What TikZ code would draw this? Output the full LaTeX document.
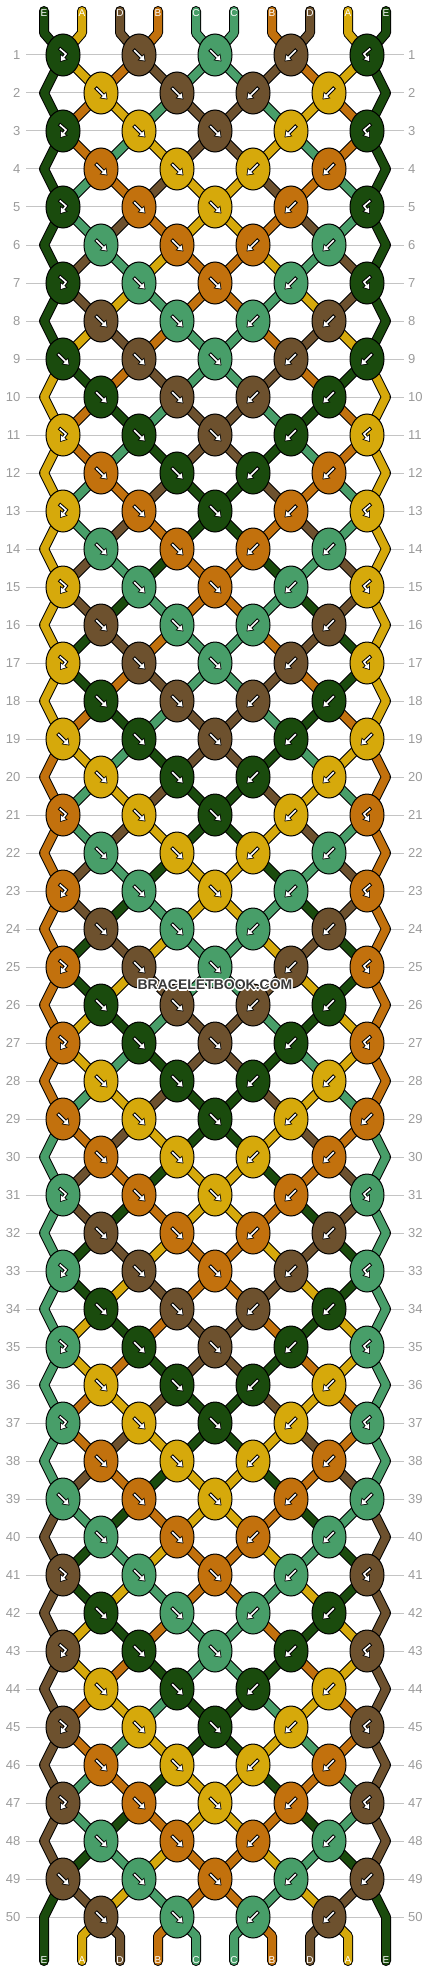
\documentclass[tikz,border=0pt]{standalone}
\usepackage{fontspec}
\setmainfont{Liberation Sans}
\usetikzlibrary{shapes.geometric,arrows.meta,calc}

\definecolor{colE}{HTML}{1A4B0D}
\definecolor{colA}{HTML}{D6A90B}
\definecolor{colD}{HTML}{6D512E}
\definecolor{colB}{HTML}{C2710D}
\definecolor{colC}{HTML}{489E69}
\definecolor{gridgray}{HTML}{C4C4C4}
\definecolor{numgray}{HTML}{9A9A9A}
\definecolor{markgray}{HTML}{383838}

\pgfdeclarelayer{strands}
\pgfsetlayers{strands,main}

\newcommand\setv[2]{\expandafter\xdef\csname #1\endcsname{#2}}
\newcommand\getv[1]{\csname #1\endcsname}

\tikzset{
	knot/.style={ellipse, draw=black, line width=1pt, minimum width=34pt, minimum height=42pt, inner sep=0pt},
	strandout/.style={draw=black, line width=10pt, line join=round, line cap=round},
	strand/.style={line width=8pt, line join=round, line cap=round},
	rowline/.style={draw=gridgray, line width=1pt},
	rownum/.style={text=numgray, font=\fontsize{13}{15}\selectfont, inner sep=0pt},
	endlabel/.style={text=white, font=\fontsize{10}{12}\selectfont, inner sep=0pt},
	markfont/.style={font=\fontsize{14}{16}\selectfont\bfseries, inner sep=0pt},
	iconout/.style={draw=black, line width=3.6pt, -{Triangle[length=6.5pt,width=9pt]}},
	iconin/.style={draw=white, line width=1.6pt, shorten <=1pt, shorten >=1.2pt, -{Triangle[length=4.6pt,width=6pt]}},
	fwd/.pic={\draw[iconout] (-5.5,-5.5) -- (6.5,6.5); \draw[iconin] (-5.5,-5.5) -- (6.5,6.5);},
	bwd/.pic={\draw[iconout] (5.5,-5.5) -- (-6.5,6.5); \draw[iconin] (5.5,-5.5) -- (-6.5,6.5);},
	fb/.pic={\draw[iconout] (-4,-7) -- (3,-1) -- (-3,7); \draw[iconin] (-4,-7) -- (3,-1) -- (-3,7);},
	bf/.pic={\draw[iconout] (4,-7) -- (-3,-1) -- (3,7); \draw[iconin] (4,-7) -- (-3,-1) -- (3,7);}
}

\begin{document}
\begin{tikzpicture}[x=1pt,y=-1pt]
	\useasboundingbox (0,0) rectangle (430,1972);
	
	% threads as they start
	\foreach \lt [count=\pos from 0] in {E,A,D,B,C,C,B,D,A,E}{
		\setv{tc\pos}{\lt}
		\setv{occ\pos}{\pos}
		\setv{path\pos}{}
	}
	
	% follow the threads row by row
	\foreach \row in {1,...,50}{
		\pgfmathtruncatemacro\oddrow{mod(\row,2)}
		\pgfmathtruncatemacro\edgerow{mod(\row,10)==9 ? 1 : 0}
		\foreach \pos in {0,...,9}{
			\ifnum\oddrow=1
				\pgfmathtruncatemacro\kn{div(\pos,2)}
				\edef\anc{k-\row-\kn.center}
			\else
				\ifnum\pos=0 \edef\anc{e-\row-0}\else
				\ifnum\pos=9 \edef\anc{e-\row-9}\else
					\pgfmathtruncatemacro\kn{div(\pos-1,2)}
					\edef\anc{k-\row-\kn.center}
				\fi\fi
			\fi
			\edef\thr{\getv{occ\pos}}
			\setv{path\thr}{\getv{path\thr} -- (\anc)}
		}
		\pgfmathtruncatemacro\nk{\oddrow==1 ? 4 : 3}
		\foreach \kn in {0,...,\nk}{
			\pgfmathtruncatemacro\lp{\oddrow==1 ? 2*\kn : 2*\kn+1}
			\pgfmathtruncatemacro\rp{\lp+1}
			\pgfmathtruncatemacro\lefthalf{((\oddrow==1) && (\kn<3)) || ((\oddrow==0) && (\kn<2)) ? 1 : 0}
			\ifnum\lefthalf=1
				\setv{kc-\row-\kn}{\getv{tc\getv{occ\lp}}}
				\setv{kt-\row-\kn}{fwd}
			\else
				\setv{kc-\row-\kn}{\getv{tc\getv{occ\rp}}}
				\setv{kt-\row-\kn}{bwd}
			\fi
			\def\swp{1}
			\ifnum\oddrow=1 \ifnum\edgerow=0
				\ifnum\kn=0 \setv{kt-\row-\kn}{fb}\def\swp{0}\fi
				\ifnum\kn=4 \setv{kt-\row-\kn}{bf}\def\swp{0}\fi
			\fi\fi
			\ifnum\swp=1
				\edef\ta{\getv{occ\lp}}\edef\tb{\getv{occ\rp}}
				\setv{occ\lp}{\tb}\setv{occ\rp}{\ta}
			\fi
		}
	}
	\foreach \pos in {0,...,9}{
		\edef\thr{\getv{occ\pos}}
		\setv{path\thr}{\getv{path\thr} -- (bb-\pos) -- (b-\pos)}
	}
	
	% ends of the threads
	\foreach \pos in {0,...,9}{
		\pgfmathsetmacro\x{44+38*\pos}
		\coordinate (t-\pos) at (\x,11);
		\coordinate (tb-\pos) at (\x,33);
		\coordinate (bb-\pos) at (\x,1936);
		\coordinate (b-\pos) at (\x,1961);
	}
	
	% knots
	\foreach \row in {1,...,50}{
		\pgfmathtruncatemacro\oddrow{mod(\row,2)}
		\pgfmathsetmacro\y{55+38*(\row-1)}
		\pgfmathtruncatemacro\nk{\oddrow==1 ? 4 : 3}
		\ifnum\oddrow=0
			\coordinate (e-\row-0) at (44,\y);
			\coordinate (e-\row-9) at (386,\y);
		\fi
		\foreach \kn in {0,...,\nk}{
			\pgfmathsetmacro\x{\oddrow==1 ? 63+76*\kn : 101+76*\kn}
			\edef\kc{\getv{kc-\row-\kn}}
			\edef\kt{\getv{kt-\row-\kn}}
			\edef\temp{\noexpand\node[knot, fill=col\kc] (k-\row-\kn) at (\x,\y) {};
				\noexpand\pic at (k-\row-\kn) {\kt};}
			\temp
		}
	}
	
	\begin{pgfonlayer}{strands}
		\foreach \row in {1,...,50}{
			\pgfmathsetmacro\y{55+38*(\row-1)}
			\draw[rowline] (26,\y) -- (404,\y);
			\node[rownum, anchor=east] (nl-\row) at (20.5,\y) {\row};
			\node[rownum, anchor=west] (nr-\row) at (408,\y) {\row};
		}
		\foreach \thr in {0,...,9}{
			\edef\temp{\noexpand\draw[strandout] (t-\thr) -- (tb-\thr) \getv{path\thr};}
			\temp
		}
		\foreach \thr in {0,...,9}{
			\edef\tcol{\getv{tc\thr}}
			\edef\temp{\noexpand\draw[strand, draw=col\tcol] (t-\thr) -- (tb-\thr) \getv{path\thr};}
			\temp
		}
	\end{pgfonlayer}
	
	\foreach \pos in {0,...,9}{
		\node[endlabel] (lt-\pos) at ($(t-\pos)+(0,2.5)$) {\getv{tc\pos}};
		\node[endlabel] (lb-\pos) at ($(b-\pos)+(0,-1)$) {\getv{tc\getv{occ\pos}}};
	}
	
	\foreach \dx/\dy [count=\n] in {-1.3/0,1.3/0,0/-1.3,0/1.3,-0.9/-0.9,0.9/-0.9,-0.9/0.9,0.9/0.9}
		\node[markfont, text=white] (halo-\n) at (215+\dx,985+\dy) {BRACELETBOOK.COM};
	\node[markfont, text=markgray] (mark) at (215,985) {BRACELETBOOK.COM};
\end{tikzpicture}
\end{document}
